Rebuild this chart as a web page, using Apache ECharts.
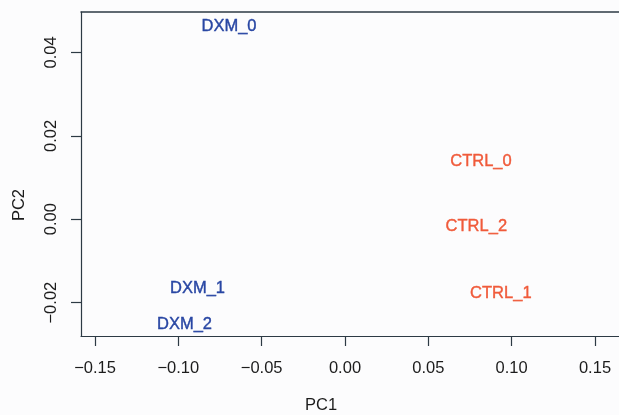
<!DOCTYPE html>
<html><head><meta charset="utf-8">
<style>html,body{margin:0;padding:0;background:#fcfcfd;}#c{width:619px;height:415px;}</style>
<script src="https://cdn.jsdelivr.net/npm/echarts@6/dist/echarts.min.js"></script>
</head><body><div id="c"></div>
<script>
var dxmNames = ['DXM_0','DXM_1','DXM_2'];
var dxmPC1 = [-0.0696, -0.0885, -0.0963];
var dxmPC2 = [0.0463, -0.0166, -0.0253];
var ctrlNames = ['CTRL_0','CTRL_1','CTRL_2'];
var ctrlPC1 = [0.0816, 0.0935, 0.0788];
var ctrlPC2 = [0.0138, -0.0178, -0.0017];
var xTicks = [-0.15,-0.10,-0.05,0.00,0.05,0.10,0.15];
var yTicks = [-0.02,0.00,0.02,0.04];
var xLabel = 'PC1', yLabel = 'PC2';

function pts(names, xs, ys){ return names.map(function(n,i){ return {name:n, value:[xs[i], ys[i]]}; }); }
var font = 'Liberation Sans, Arial, Helvetica, sans-serif';
var axisCol = '#2d3a44';
var textCol = '#1c1c1c';
var chart = echarts.init(document.getElementById('c'), null, {renderer:'canvas'});
function series(names, xs, ys, color){
  return {type:'scatter', data:pts(names,xs,ys), symbolSize:0, itemStyle:{color:color, opacity:1}, silent:true,
    label:{show:true, position:'inside', formatter:'{b}', color:color, opacity:1,
      textBorderColor:color, textBorderWidth:0.4, fontFamily:font, fontSize:16.5}};
}
function fmt(v){ return (v<0?'\u2212':'') + Math.abs(v).toFixed(2); }
chart.setOption({
  backgroundColor:'#fcfcfd',
  animation:false,
  grid:{left:81, top:12, right:0, bottom:79, containLabel:false},
  xAxis:[{type:'value', min:-0.1584, max:0.1644, position:'bottom',
    splitLine:{show:false},
    axisLine:{show:true, onZero:false, lineStyle:{color:axisCol, width:1.2}},
    axisTick:{show:true, length:10, customValues:xTicks, lineStyle:{color:axisCol, width:1.2}},
    axisLabel:{show:true, customValues:xTicks, margin:24, color:textCol, fontFamily:font, fontSize:16.5, formatter:fmt}},
   {type:'value', min:-0.1584, max:0.1644, position:'top',
    splitLine:{show:false}, axisTick:{show:false}, axisLabel:{show:false},
    axisLine:{show:true, onZero:false, lineStyle:{color:axisCol, width:1.5}}}],
  yAxis:{type:'value', min:-0.028, max:0.0497,
    splitLine:{show:false},
    axisLine:{show:true, onZero:false, lineStyle:{color:axisCol, width:1.2}},
    axisTick:{show:true, length:10, customValues:yTicks, lineStyle:{color:axisCol, width:1.2}},
    axisLabel:{show:true, customValues:yTicks, rotate:90, margin:21, color:textCol, fontFamily:font, fontSize:16.5, formatter:fmt}},
  graphic:[
    {type:'text', left:305, top:397, style:{text:xLabel, fill:textCol, font:'16.5px '+font}},
    {type:'text', x:19, y:205, rotation:Math.PI/2, style:{text:yLabel, fill:textCol, font:'16.5px '+font, textAlign:'center', textVerticalAlign:'middle'}}
  ],
  series:[
    series(dxmNames, dxmPC1, dxmPC2, '#2846a3'),
    series(ctrlNames, ctrlPC1, ctrlPC2, '#f05a3a')
  ]
});
</script></body></html>
